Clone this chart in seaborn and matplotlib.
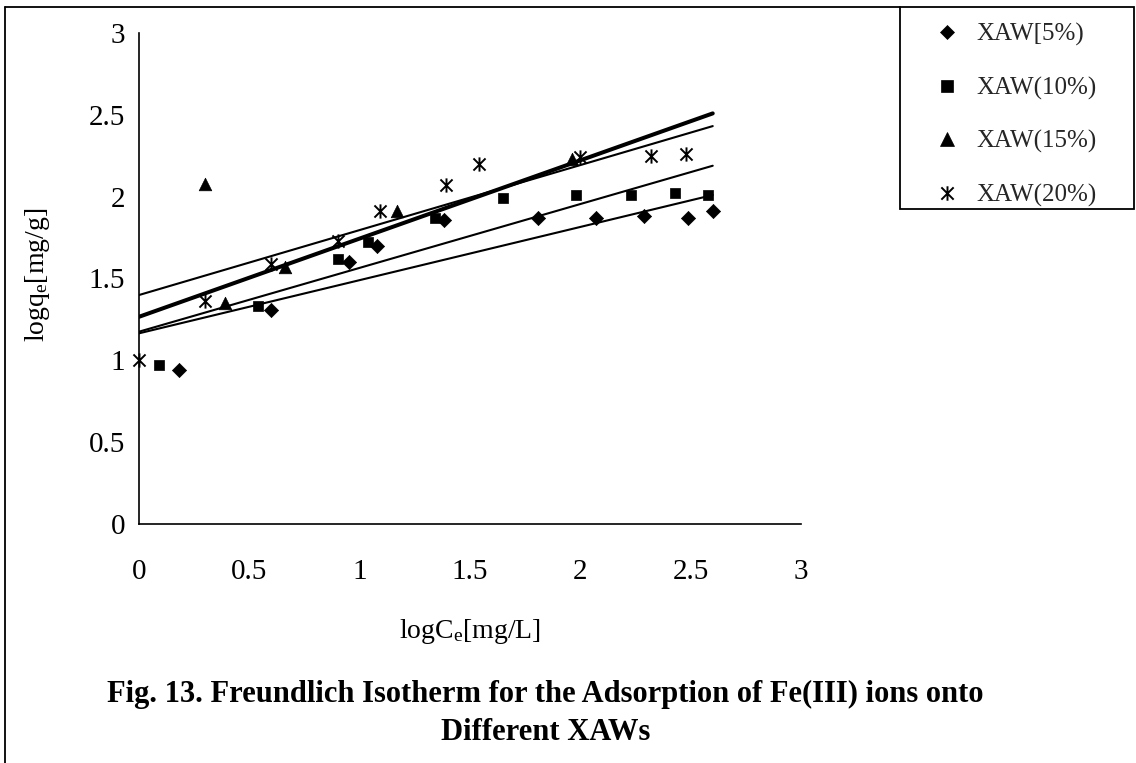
import numpy as np
import pandas as pd
import matplotlib
matplotlib.use("Agg")
import matplotlib.pyplot as plt
import seaborn as sns
from matplotlib.path import Path
from matplotlib.lines import Line2D
from matplotlib.patches import Rectangle

# Freundlich isotherm data: log Ce [mg/L] vs log qe [mg/g]
series_labels = ["XAW[5%)", "XAW(10%)", "XAW(15%)", "XAW(20%)"]

logce_5 = [0.18, 0.60, 0.95, 1.08, 1.38, 1.81, 2.07, 2.29, 2.49, 2.60]
logqe_5 = [0.94, 1.31, 1.60, 1.70, 1.86, 1.87, 1.87, 1.88, 1.87, 1.91]

logce_10 = [0.09, 0.54, 0.90, 1.04, 1.34, 1.65, 1.98, 2.23, 2.43, 2.58]
logqe_10 = [0.97, 1.33, 1.62, 1.72, 1.87, 1.99, 2.01, 2.01, 2.02, 2.01]

logce_15 = [0.30, 0.39, 0.66, 1.17, 1.96]
logqe_15 = [2.08, 1.35, 1.57, 1.91, 2.23]

logce_20 = [0.00, 0.30, 0.60, 0.90, 1.09, 1.39, 1.54, 2.00, 2.32, 2.48]
logqe_20 = [1.00, 1.36, 1.59, 1.73, 1.91, 2.07, 2.20, 2.24, 2.25, 2.26]

# Linear trend lines (intercept, slope) for each series
trend_intercepts = [1.165, 1.175, 1.399, 1.266]
trend_slopes = [0.325, 0.390, 0.397, 0.478]
trend_x_range = [0.0, 2.6]

x_ticks = [0, 0.5, 1, 1.5, 2, 2.5, 3]
y_ticks = [0, 0.5, 1, 1.5, 2, 2.5, 3]

frames = []
for lab, xs, ys in zip(series_labels,
                       [logce_5, logce_10, logce_15, logce_20],
                       [logqe_5, logqe_10, logqe_15, logqe_20]):
    frames.append(pd.DataFrame({"series": lab, "logCe": xs, "logqe": ys}))
points = pd.concat(frames, ignore_index=True)

sns.set_theme(style="white")
plt.rcParams["font.family"] = ["Liberation Serif", "DejaVu Serif"]
plt.rcParams["mathtext.fontset"] = "custom"
plt.rcParams["mathtext.rm"] = "Liberation Serif"
plt.rcParams["mathtext.it"] = "Liberation Serif:italic"

# asterisk: vertical bar plus a diagonal cross
asterisk = Path(
    [(0, -1), (0, 1), (-0.85, -0.85), (0.85, 0.85), (-0.85, 0.85), (0.85, -0.85)],
    [Path.MOVETO, Path.LINETO, Path.MOVETO, Path.LINETO, Path.MOVETO, Path.LINETO],
)

marker_styles = [
    dict(marker="D", s=52, linewidth=0.5),
    dict(marker="s", s=58, linewidth=0.5),
    dict(marker="^", s=82, linewidth=0.5),
    dict(marker=asterisk, s=105, linewidth=1.4),
]
legend_sizes = [7.4, 8.0, 9.6, 10.4]
trend_widths = [1.5, 1.5, 1.5, 2.9]

W, H = 1136, 763
fig = plt.figure(figsize=(W / 100, H / 100), dpi=100)
ax = fig.add_axes([139 / W, 1 - 524 / H, 662 / W, 491 / H])

for lab, b, m, lw in zip(series_labels, trend_intercepts, trend_slopes, trend_widths):
    tx = np.array(trend_x_range)
    sns.lineplot(x=tx, y=b + m * tx, color="black", linewidth=lw, ax=ax,
                 legend=False, zorder=2)

for lab, style in zip(series_labels, marker_styles):
    sub = points[points["series"] == lab]
    sns.scatterplot(data=sub, x="logCe", y="logqe", color="black",
                    edgecolor="black", ax=ax, legend=False, zorder=3,
                    clip_on=False, **style)

ax.set_xlim(0, 3)
ax.set_ylim(0, 3)
ax.set_xticks(x_ticks)
ax.set_yticks(y_ticks)
ax.set_xticklabels([f"{t:g}" for t in x_ticks])
ax.set_yticklabels([f"{t:g}" for t in y_ticks])
for side in ["top", "right"]:
    ax.spines[side].set_visible(False)
for side in ["left", "bottom"]:
    ax.spines[side].set_color("black")
    ax.spines[side].set_linewidth(1.2)
ax.tick_params(axis="both", direction="out", length=7, width=1.1,
               color="black", labelcolor="black", labelsize=21)
ax.tick_params(axis="x", pad=18)
ax.tick_params(axis="y", pad=3)
ax.grid(False)

ax.set_xlabel(r"logC$_\mathregular{e}$[mg/L]", fontsize=20, color="black")
ax.set_ylabel(r"logq$_\mathregular{e}$[mg/g]", fontsize=20, color="black")
ax.xaxis.label.set_va("center")
ax.yaxis.label.set_va("center")
ax.xaxis.set_label_coords(0.5, (524 - 632) / 491)
ax.yaxis.set_label_coords((37 - 139) / 662, (524 - 275) / 491)

# caption
fig.text(545 / W, 1 - 694 / H,
         "Fig. 13. Freundlich Isotherm for the Adsorption of Fe(III) ions onto",
         ha="center", va="center", fontsize=22, fontweight="bold", color="black")
fig.text(546 / W, 1 - 733 / H, "Different XAWs",
         ha="center", va="center", fontsize=22, fontweight="bold", color="black")

# legend with its own frame
handles = []
for style, ms in zip(marker_styles, legend_sizes):
    handles.append(Line2D([], [], linestyle="None", marker=style["marker"],
                          markersize=ms, color="black", markerfacecolor="black",
                          markeredgecolor="black",
                          markeredgewidth=style["linewidth"]))
fig.legend(handles, series_labels, loc="upper left",
           bbox_to_anchor=(935 / W, 1 - 23 / H), bbox_transform=fig.transFigure,
           frameon=False, handlelength=0.95, handletextpad=0.72,
           labelspacing=1.22, borderpad=0, borderaxespad=0, fontsize=18)
fig.add_artist(Rectangle((900 / W, 1 - 209 / H), 234 / W, 202 / H,
                         transform=fig.transFigure, fill=False,
                         edgecolor="black", linewidth=1.3))

# outer chart border (left and top edges)
fig.add_artist(Line2D([5 / W, 5 / W], [0, 1 - 7 / H], transform=fig.transFigure,
                      color="black", linewidth=1.3))
fig.add_artist(Line2D([5 / W, 900 / W], [1 - 7 / H, 1 - 7 / H],
                      transform=fig.transFigure, color="black", linewidth=1.3))

fig.savefig("out.png", dpi=100, facecolor="white")
